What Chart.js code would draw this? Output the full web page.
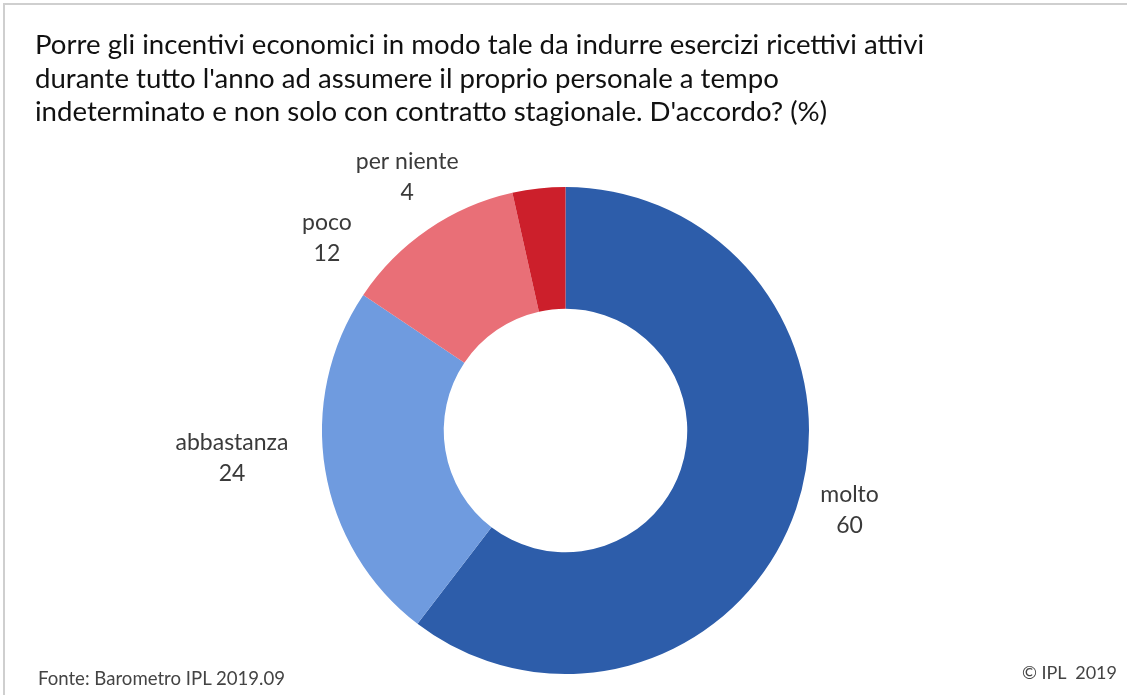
<!DOCTYPE html>
<html>
<head>
<meta charset="utf-8">
<script src="https://cdn.jsdelivr.net/npm/chart.js@4/dist/chart.umd.min.js"></script>
<style>
  html, body { margin: 0; padding: 0; background: #fff; }
  #wrap { position: relative; width: 1127px; height: 695px; overflow: hidden; font-family: Lato, sans-serif; }
  #frame { position: absolute; left: 3px; top: 3px; width: 1130px; height: 700px; border-left: 2px solid #cfcfcf; border-top: 2px solid #cfcfcf; }
  #title { position: absolute; left: 35px; top: 27px; font-size: 27.6px; line-height: 33.5px; color: #111; }
  #fonte { position: absolute; left: 38px; top: 667px; font-size: 18.6px; color: #444; }
  #copy { position: absolute; right: 10px; top: 661px; font-size: 18px; color: #444; }
  canvas { position: absolute; left: 0; top: 0; }
</style>
</head>
<body>
<div id="wrap">
  <div id="frame"></div>
  <canvas id="chart" width="1127" height="695"></canvas>
  <div id="title">Porre gli incentivi economici in modo tale da indurre esercizi ricettivi attivi<br>durante tutto l'anno ad assumere il proprio personale a tempo<br>indeterminato e non solo con contratto stagionale. D'accordo? (%)</div>
  <div id="fonte">Fonte: Barometro IPL 2019.09</div>
  <div id="copy">© IPL&nbsp; 2019</div>
</div>
<script>
// dati (le etichette mostrano i valori arrotondati)
const categories = ['molto', 'abbastanza', 'poco', 'per niente'];
const values = [60.4, 24.0, 12.1, 3.5];
const colors = ['#2d5daa', '#6f9bdf', '#e96f77', '#cc1f2b'];

// etichette fuori dalla ciambella (spostamento angolare e distanza come nel grafico originale)
const outsideLabels = {
    id: 'outsideLabels',
    afterDatasetsDraw(chart, args, opts) {
        const ctx = chart.ctx;
        const meta = chart.getDatasetMeta(0);
        ctx.save();
        ctx.font = opts.font;
        ctx.fillStyle = opts.color;
        ctx.textAlign = 'center';
        ctx.textBaseline = 'middle';
        meta.data.forEach((arc, i) => {
            const mid = (arc.startAngle + arc.endAngle) / 2 + opts.shift[i] * Math.PI / 180;
            const d = arc.outerRadius + opts.gap[i];
            const x = arc.x + Math.cos(mid) * d;
            const y = arc.y + Math.sin(mid) * d + opts.dy;
            ctx.fillText(chart.data.labels[i], x, y - opts.lineHeight / 2);
            ctx.fillText(String(Math.round(chart.data.datasets[0].data[i])), x, y + opts.lineHeight / 2);
        });
        ctx.restore();
    }
};

new Chart(document.getElementById('chart'), {
    type: 'doughnut',
    data: {
        labels: categories,
        datasets: [{
            data: values,
            backgroundColor: colors,
            borderWidth: 0
        }]
    },
    options: {
        responsive: false,
        animation: false,
        cutout: '50%',
        layout: { padding: { top: 187, bottom: 21, left: 322, right: 318 } },
        plugins: {
            legend: { display: false },
            tooltip: { enabled: false },
            outsideLabels: {
                font: '23px Lato, sans-serif',
                color: '#3a3a3a',
                lineHeight: 31,
                dy: 2,
                shift: [-3.4, 5.0, -16.5, -25.5],
                gap: [51, 91, 64, 57]
            }
        }
    },
    plugins: [outsideLabels]
});
</script>
</body>
</html>
